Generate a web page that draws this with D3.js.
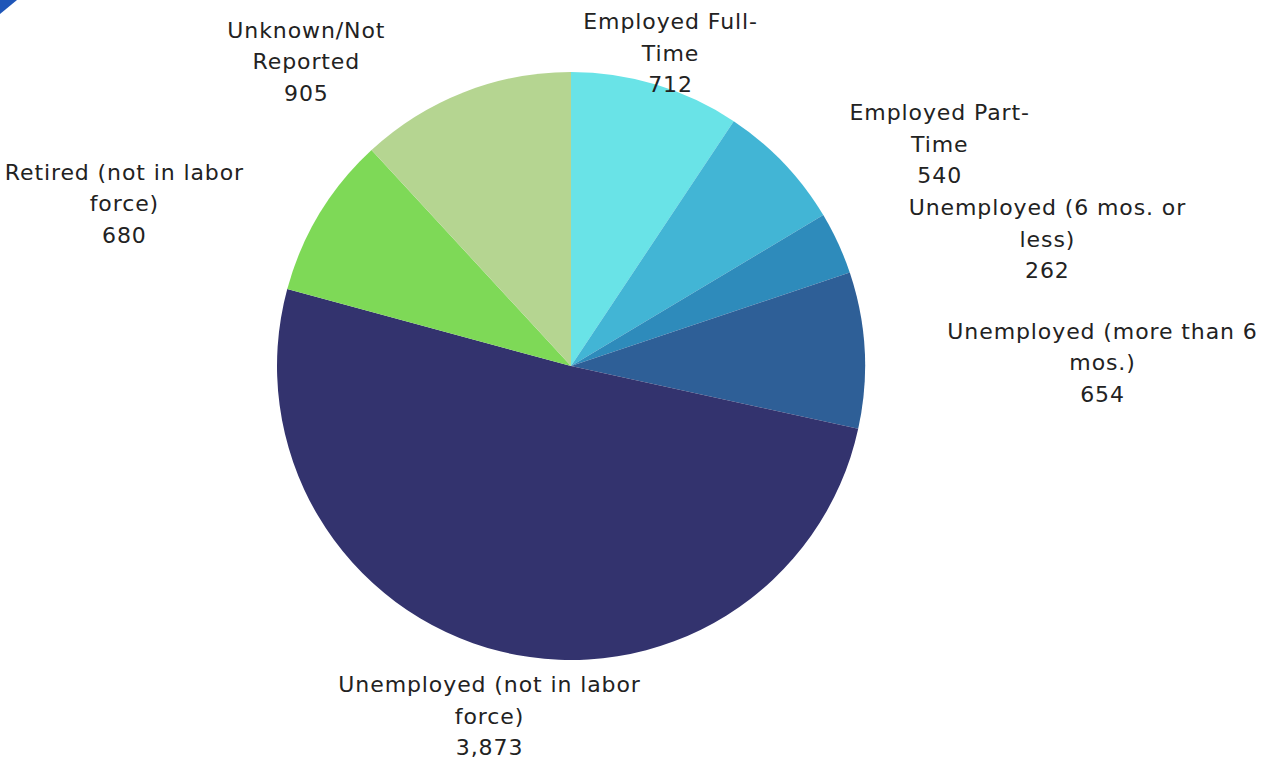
<!DOCTYPE html>
<html>
<head>
<meta charset="utf-8">
<script src="https://cdn.jsdelivr.net/npm/d3@7"></script>
<style>
  html, body { margin: 0; padding: 0; background: #ffffff; }
  svg { display: block; }
  text { font-family: "DejaVu Sans", sans-serif; fill: #222222; }
</style>
</head>
<body>
<svg id="chart" width="1274" height="763"></svg>
<script>
// Employment status counts
const categories = [
  "Employed Full-Time",
  "Employed Part-Time",
  "Unemployed (6 mos. or less)",
  "Unemployed (more than 6 mos.)",
  "Unemployed (not in labor force)",
  "Retired (not in labor force)",
  "Unknown/Not Reported"
];
const values = [712, 540, 262, 654, 3873, 680, 905];

// Label text, wrapped the way it is displayed
const labelLines = [
  ["Employed Full-", "Time"],
  ["Employed Part-", "Time"],
  ["Unemployed (6 mos. or", "less)"],
  ["Unemployed (more than 6", "mos.)"],
  ["Unemployed (not in labor", "force)"],
  ["Retired (not in labor", "force)"],
  ["Unknown/Not", "Reported"]
];

const colors = ["#69e3e7", "#42b5d5", "#2e8bbb", "#2e5f97", "#33336e", "#7ed957", "#b5d591"];

// Fine adjustment of label blocks away from their radial anchor
const labelNudge = [
  [3, 7], [127, 9], [173, 13], [198, 15], [-2, 26], [-161, 11], [-143, 7]
];

const width = 1274, height = 763;
const cx = 571, cy = 366, radius = 294;
const lineHeight = 31.5;
const fmt = d3.format(",");

const svg = d3.select("#chart");

// small accent in the top-left corner
svg.append("path")
  .attr("d", "M0,0 L17,0 L0,14 Z")
  .attr("fill", "#1f56b8");

const data = categories.map((c, i) => ({ name: c, value: values[i], i }));

const pie = d3.pie().value(d => d.value).sort(null);
const arcs = pie(data);

const arc = d3.arc().innerRadius(0).outerRadius(radius);
const labelArc = d3.arc().innerRadius(radius + 40).outerRadius(radius + 40);

const color = d3.scaleOrdinal().domain(categories).range(colors);

const g = svg.append("g").attr("transform", `translate(${cx},${cy})`);

g.selectAll("path.slice")
  .data(arcs)
  .join("path")
  .attr("class", "slice")
  .attr("d", arc)
  .attr("fill", d => color(d.data.name));

const labels = g.selectAll("g.label")
  .data(arcs)
  .join("g")
  .attr("class", "label")
  .attr("transform", d => {
    const [x, y] = labelArc.centroid(d);
    const [dx, dy] = labelNudge[d.data.i];
    return `translate(${x + dx},${y + dy})`;
  });

labels.each(function(d) {
  const lines = labelLines[d.data.i].concat([fmt(d.data.value)]);
  const n = lines.length;
  d3.select(this).selectAll("text")
    .data(lines)
    .join("text")
    .attr("text-anchor", "middle")
    .attr("dominant-baseline", "central")
    .attr("font-size", 22)
    .attr("letter-spacing", 0.9)
    .attr("y", (t, k) => (k - (n - 1) / 2) * lineHeight)
    .text(t => t);
});
</script>
</body>
</html>
